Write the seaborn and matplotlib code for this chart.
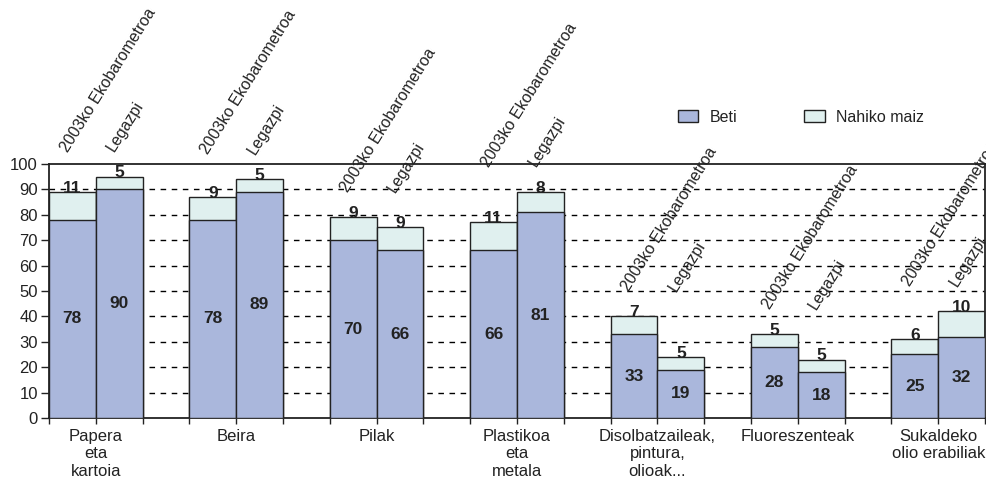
import numpy as np
import pandas as pd
import matplotlib
matplotlib.use('Agg')
import matplotlib.pyplot as plt
import seaborn as sns
from matplotlib.patches import Patch

categories = ['Papera\neta\nkartoia', 'Beira', 'Pilak', 'Plastikoa\neta\nmetala',
              'Disolbatzaileak,\npintura,\nolioak...', 'Fluoreszenteak',
              'Sukaldeko\nolio erabiliak']
sources = ['2003ko Ekobarometroa', 'Legazpi']
beti_2003 = [78, 78, 70, 66, 33, 28, 25]
beti_legazpi = [90, 89, 66, 81, 19, 18, 32]
maiz_2003 = [11, 9, 9, 11, 7, 5, 6]
maiz_legazpi = [5, 5, 9, 8, 5, 5, 10]

beti_color = '#aab7dc'
maiz_color = '#e0f0ef'
ink = '#222222'

sns.set_style('white')
plt.rcParams['font.family'] = ['Liberation Sans', 'DejaVu Sans']

rows = []
for g, cat in enumerate(categories):
    for s, (b, m) in enumerate([(beti_2003[g], maiz_2003[g]), (beti_legazpi[g], maiz_legazpi[g])]):
        rows.append({'group': g, 'source': sources[s], 'pos': 3 * g + s,
                     'beti': b, 'maiz': m, 'total': b + m})
df = pd.DataFrame(rows)

fig = plt.figure(figsize=(9.87, 4.84), dpi=100)
ax = fig.add_axes([0.0496, 0.1364, 0.9484, 0.5248])

# dashed grid behind the bars
for yv in range(10, 100, 10):
    ax.axhline(yv, color='black', lw=1, ls=(0, (4, 4)), zorder=0)

sns.barplot(data=df, x='pos', y='total', native_scale=True, width=1,
            color=maiz_color, saturation=1, edgecolor=ink, linewidth=1,
            errorbar=None, ax=ax, zorder=2)
sns.barplot(data=df, x='pos', y='beti', native_scale=True, width=1,
            color=beti_color, saturation=1, edgecolor=ink, linewidth=1,
            errorbar=None, ax=ax, zorder=3)

for _, r in df.iterrows():
    ax.text(r['pos'], r['beti'] / 2, str(r['beti']), ha='center', va='center',
            fontsize=12.5, fontweight='bold', color=ink, zorder=4)
    ax.text(r['pos'], r['total'] + 1.5, str(r['maiz']), ha='center', va='center',
            fontsize=12.5, fontweight='bold', color=ink, zorder=4)

# rotated source labels above each group
for g in range(len(categories)):
    sub = df[df['group'] == g]
    top = sub['total'].max()
    for _, r in sub.iterrows():
        ax.text(r['pos'] - 0.1, top + 9.5, r['source'], rotation=58,
                rotation_mode='anchor', ha='left', va='baseline', fontsize=11.5,
                color=ink, clip_on=False, zorder=4)

ax.set_xlim(-0.5, 19.5)
ax.set_ylim(0, 100)
ax.set_yticks(range(0, 101, 10))
ax.set_xticks([3 * g + 0.5 for g in range(len(categories))])
ax.set_xticklabels(categories, fontsize=12)
minor = []
for g in range(len(categories)):
    minor += [3 * g - 0.5, 3 * g + 1.5]
ax.set_xticks(minor, minor=True)
ax.tick_params(axis='x', which='both', direction='out', length=4.5, width=1,
               color=ink, bottom=True, pad=3.5, labelcolor=ink)
ax.tick_params(axis='y', direction='out', length=5.5, width=1, color=ink,
               left=True, labelsize=12, pad=2.5, labelcolor=ink)
ax.set_xlabel('')
ax.set_ylabel('')
for sp in ax.spines.values():
    sp.set_visible(True)
    sp.set_color(ink)
    sp.set_linewidth(1.3)

handles = [Patch(facecolor=beti_color, edgecolor=ink, label='Beti'),
           Patch(facecolor=maiz_color, edgecolor=ink, label='Nahiko maiz')]
fig.legend(handles=handles, loc='center left', bbox_to_anchor=(0.672, 0.758),
           ncol=2, frameon=False, fontsize=11.5, handlelength=1.3,
           handleheight=0.8, columnspacing=4.2, handletextpad=0.7,
           labelcolor=ink)

fig.savefig('out.png', dpi=100)
